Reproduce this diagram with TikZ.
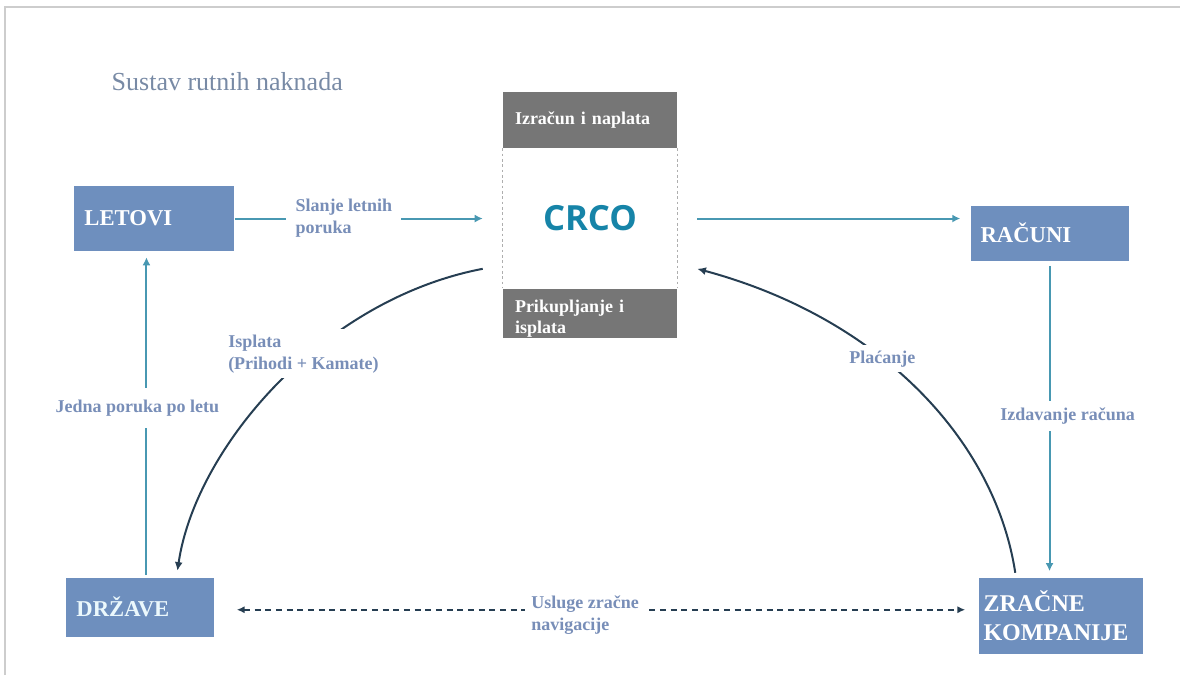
\documentclass[tikz,border=0pt]{standalone}
\usepackage{fontspec}
\setmainfont{Liberation Serif}
\newfontfamily\crcofont{Open Sans}
\usepackage{tikz}
\usetikzlibrary{shapes,arrows,arrows.meta,positioning}
\definecolor{boxblue}{RGB}{110,143,190}
\definecolor{boxgrey}{RGB}{118,118,118}
\definecolor{tealline}{RGB}{72,152,178}
\definecolor{darkline}{RGB}{38,62,82}
\definecolor{labcol}{RGB}{120,142,184}
\definecolor{titlecol}{RGB}{120,138,165}
\definecolor{crcoblue}{RGB}{22,132,168}
\definecolor{framecol}{RGB}{205,205,205}
\tikzstyle{block} = [rectangle, fill=boxblue, text=white, align=left, inner xsep=7.5pt, inner ysep=0pt, font=\fontsize{17}{20}\selectfont\bfseries]
\tikzstyle{greybox} = [rectangle, fill=boxgrey, text=white, align=left, text width=112.5pt, inner xsep=9pt, inner ysep=1pt, minimum height=42pt, font=\fontsize{13.5}{15.75}\selectfont\bfseries]
\tikzstyle{lab} = [fill=white, text=labcol, align=left, inner xsep=7pt, inner ysep=5pt, font=\fontsize{13.5}{16.5}\selectfont\bfseries]
\tikzstyle{line} = [draw=tealline, line width=1.5pt, -{Latex[length=6pt,width=6pt]}]
\tikzstyle{curve} = [draw=darkline, line width=1.5pt, -{Latex[length=6.5pt,width=6pt]}]
\tikzstyle{dline} = [draw=darkline, line width=1.3pt, dash pattern=on 4.5pt off 3.5pt, {Latex[length=6pt,width=5.5pt]}-{Latex[length=6pt,width=5.5pt]}]

\begin{document}
\begin{tikzpicture}[x=0.75pt, y=-0.75pt]
    \useasboundingbox (0,0) rectangle (1180,675);
    \draw [framecol, line width=1pt] (5,675) -- (5,7) -- (1180,7);
    \node [anchor=west, text=titlecol, font=\fontsize{19.5}{22}\selectfont] (title) at (107,82) {Sustav rutnih naknada};
    % CRCO
    \node [greybox] (izracun) at (590,120) {Izračun i naplata};
    \node [below=15pt of izracun, minimum width=160.5pt, minimum height=75pt, inner sep=0pt, text=crcoblue, font=\crcofont\bfseries\fontsize{26}{30}\selectfont] (crco) {CRCO};
    \node [greybox, below=105pt of izracun, minimum height=36.75pt] (prikup) {\raisebox{-4.5pt}[\height][\depth]{Prikupljanje i}\\\raisebox{-4.5pt}[\height][\depth]{isplata}};
    \draw [framecol!85!black, line width=0.6pt, dash pattern=on 2pt off 2pt] (izracun.south west) -- (prikup.north west);
    \draw [framecol!85!black, line width=0.6pt, dash pattern=on 2pt off 2pt] (izracun.south east) -- (prikup.north east);
    % boxes
    \node [block, left=186pt of crco, text width=105pt, minimum height=48.75pt] (letovi) {LETOVI};
    \node [block, right=204.75pt of crco, yshift=-10.875pt, text width=103.5pt, minimum height=41.25pt] (racuni) {RAČUNI};
    \node [block, below=244.5pt of letovi, xshift=-10.5pt, text width=96pt, minimum height=44.25pt, text={rgb,255:red,235;green,248;blue,252}] (drzave) {DRŽAVE};
    \node [block, below=237.75pt of racuni, xshift=8.25pt, inner xsep=3.75pt, text width=115.5pt, minimum height=57pt, font=\fontsize{18}{21.75}\selectfont\bfseries] (zracne) {ZRAČNE\\KOMPANIJE};
    % connectors
    \path [line] (letovi) -- node [lab, pos=0.44] {Slanje letnih\\poruka} (crco);
    \path [line, shorten >=7.5pt] (crco.east) -- (racuni.west |- crco.east);
    \path [line, shorten <=3.75pt, shorten >=5pt] (racuni) -- node [lab, pos=0.49, xshift=13.5pt] {Izdavanje računa} (racuni |- zracne.north);
    \path [curve] ([xshift=27.75pt,yshift=3.75pt]zracne.north west) .. controls (995,440) and (880,318) .. (crco.south east) node [lab, pos=0.6, inner sep=4pt] {Plaćanje};
    \path [curve] (crco.south west) .. controls (320,300) and (195,450) .. ([xshift=27.75pt,yshift=4.9pt]drzave.north) node [lab, pos=0.4, inner sep=4pt, xshift=-5pt] {Isplata\\(Prihodi + Kamate)};
    \path [line, shorten <=2pt, shorten >=4.5pt] ([xshift=4.5pt]drzave.north) -- node [lab, pos=0.52, xshift=-6.75pt, inner ysep=9pt] {Jedna poruka po letu} ([xshift=4.5pt]drzave.north |- letovi.south);
    \path [dline, shorten <=16.5pt, shorten >=9.75pt] ([yshift=-2pt]drzave.east) -- node [lab, pos=0.485, yshift=-4pt, inner xsep=5pt] {Usluge zračne\\navigacije} ([yshift=-2pt]drzave.east -| zracne.west);
\end{tikzpicture}
\end{document}
